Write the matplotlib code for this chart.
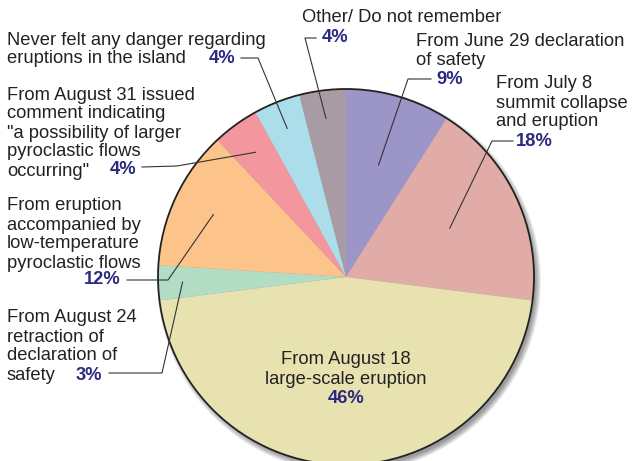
import numpy as np
import matplotlib.pyplot as plt
from matplotlib.patches import Circle

# slice data, clockwise from 12 o'clock
labels = [
    "From June 29 declaration\nof safety",
    "From July 8\nsummit collapse\nand eruption",
    "From August 18\nlarge-scale eruption",
    "From August 24\nretraction of\ndeclaration of\nsafety",
    "From eruption\naccompanied by\nlow-temperature\npyroclastic flows",
    "From August 31 issued\ncomment indicating\n\"a possibility of larger\npyroclastic flows\noccurring\"",
    "Never felt any danger regarding\neruptions in the island",
    "Other/ Do not remember",
]
values = [9, 18, 46, 3, 12, 4, 4, 4]
pct_labels = ["9%", "18%", "46%", "3%", "12%", "4%", "4%", "4%"]

colors = ['#9b95c8', '#e1aca8', '#e8e2b0', '#b2dcc3', '#fcc48b',
          '#f3969d', '#abdeea', '#a99ba4']
navy = '#2b2a80'
W, H = 632, 461
cx, cy, R = 346, H - 277, 188

fig = plt.figure(figsize=(W / 100, H / 100), dpi=100)
ax = fig.add_axes([0, 0, 1, 1])

# soft drop shadow
for i in range(8):
    ax.add_patch(Circle((cx + 3, cy - 4), R + 4 - i * 0.8, color='black',
                        alpha=0.06, lw=0, zorder=0))

wedges, _ = ax.pie(values, colors=colors, startangle=90, counterclock=False,
                   center=(cx, cy), radius=R, frame=True,
                   wedgeprops=dict(linewidth=0))
for w in wedges:
    w.set_zorder(1)
ax.add_patch(Circle((cx, cy), R, fill=False, ec='#222222', lw=1.3, zorder=2))

ax.set_xlim(0, W)
ax.set_ylim(0, H)
ax.set_aspect('auto')
ax.axis('off')

font = 'Liberation Sans'
fs = 13.2


def inner_point(i, frac):
    w = wedges[i]
    ang = np.deg2rad((w.theta1 + w.theta2) / 2)
    return cx + frac * R * np.cos(ang), cy + frac * R * np.sin(ang)


def put_lines(text, x, y_top, ha='left', step=19):
    for k, line in enumerate(text.split('\n')):
        ax.text(x, H - (y_top + k * step), line, ha=ha, va='center',
                fontsize=fs, family=font, color='#222222', zorder=5)


def put_pct(text, x, y, ha='left'):
    ax.text(x, H - y, text, ha=ha, va='center', fontsize=fs, family=font,
            fontweight='bold', color=navy, zorder=5)


def leader(i, frac, pts):
    px, py = inner_point(i, frac)
    xs = [p[0] for p in pts] + [px]
    ys = [H - p[1] for p in pts] + [py]
    ax.plot(xs, ys, color='#333333', lw=0.8, zorder=4)


# June 29
put_lines(labels[0], 416, 42)
put_pct(pct_labels[0], 436, 80)
leader(0, 0.62, [(431, 79), (408, 79)])

# July 8
put_lines(labels[1], 496, 84)
put_pct(pct_labels[1], 516, 142)
leader(1, 0.61, [(513, 141), (492, 141)])

# August 18 (inside)
put_lines(labels[2], cx, 360, ha='center')
put_pct(pct_labels[2], cx, 398, ha='center')

# August 24
put_lines(labels[3], 7, 318)
put_pct(pct_labels[3], 76, 375)
leader(3, 0.87, [(109, 373), (162, 373)])

# low-temperature flows
put_lines(labels[4], 7, 206)
put_pct(pct_labels[4], 121, 280, ha='right')
leader(4, 0.78, [(127, 280), (168, 280)])

# August 31
put_lines(labels[5], 7, 95)
put_pct(pct_labels[5], 110, 170)
leader(5, 0.82, [(142, 167), (177, 166)])

# never felt danger
put_lines(labels[6], 7, 41, step=18)
put_pct(pct_labels[6], 209, 59)
leader(6, 0.85, [(241, 58), (258, 58)])

# other
put_lines(labels[7], 302, 18)
put_pct(pct_labels[7], 322, 38)
leader(7, 0.85, [(316, 38), (305, 38)])

fig.savefig('out.png', dpi=100, facecolor='white')
